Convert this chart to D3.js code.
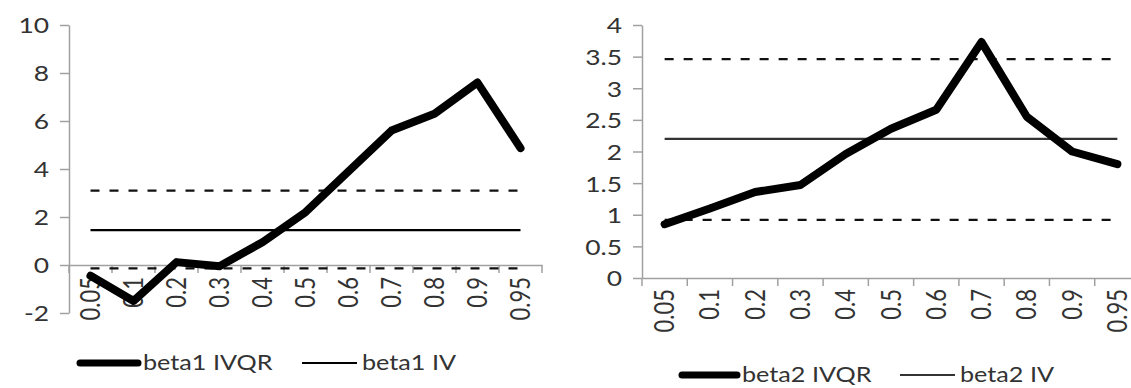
<!DOCTYPE html>
<html>
<head>
<meta charset="utf-8">
<script src="https://cdn.jsdelivr.net/npm/d3@7"></script>
<style>
  body { margin: 0; background: #fff; }
  svg { display: block; }
  text { font-family: Lato, "Open Sans", sans-serif; fill: #333; }
</style>
</head>
<body>
<div id="wrapper"></div>
<script>
const quantiles = ["0.05","0.1","0.2","0.3","0.4","0.5","0.6","0.7","0.8","0.9","0.95"];

const beta1IVQR = [-0.45, -1.5, 0.12, -0.05, 0.95, 2.2, 3.9, 5.6, 6.3, 7.6, 4.87];
const beta1IV = 1.45;
const beta1Low = -0.14;
const beta1High = 3.1;
const beta1Ticks = [-2, 0, 2, 4, 6, 8, 10];

const beta2IVQR = [0.85, 1.1, 1.36, 1.47, 1.96, 2.36, 2.66, 3.73, 2.55, 2.0, 1.8];
const beta2IV = 2.2;
const beta2Low = 0.92;
const beta2High = 3.46;
const beta2Ticks = [0, 0.5, 1, 1.5, 2, 2.5, 3, 3.5, 4];

const stretch = 1.2;

const svg = d3.select("#wrapper").append("svg")
  .attr("width", 1131)
  .attr("height", 388);

function drawPanel(opts) {
  const g = svg.append("g");

  const x = d3.scaleBand()
    .domain(quantiles)
    .range(opts.xRange)
    .padding(0);
  const y = d3.scaleLinear()
    .domain(opts.yDomain)
    .range(opts.yRange);
  const cx = d => x(d) + x.bandwidth() / 2;

  // y axis
  const yAxis = g.append("g")
    .attr("transform", `translate(${opts.xRange[0]},0)`)
    .call(d3.axisLeft(y).tickValues(opts.ticks).tickSize(9).tickSizeOuter(0).tickFormat(d => String(d)));
  yAxis.select(".domain").attr("stroke", "#a0a0a0").attr("stroke-width", 1.5);
  yAxis.selectAll(".tick line").attr("stroke", "#a0a0a0").attr("stroke-width", 1.5);
  yAxis.selectAll(".tick text")
    .attr("x", 0).attr("dy", "0.36em")
    .attr("transform", `translate(-${opts.yLabelGap},0) scale(${stretch},1)`)
    .attr("font-size", 22)
    .attr("text-anchor", "end");

  // x axis at y = 0
  const xAxis = g.append("g")
    .attr("transform", `translate(0,${y(0)})`)
    .call(d3.axisBottom(x).tickSize(0).tickSizeOuter(0));
  xAxis.select(".domain").attr("stroke", "#a0a0a0").attr("stroke-width", 1.5);
  xAxis.selectAll(".tick text")
    .attr("x", 0).attr("y", 0).attr("dy", "0.36em")
    .attr("transform", `translate(0,${opts.xLabelGap}) scale(${stretch},1) rotate(-90)`)
    .attr("font-size", 22)
    .attr("text-anchor", "end");

  // category boundary ticks
  const bounds = quantiles.map(q => x(q)).concat([x.range()[1]]);
  g.append("g").selectAll("line")
    .data(bounds)
    .join("line")
    .attr("x1", d => d).attr("x2", d => d)
    .attr("y1", y(0)).attr("y2", y(0) + 8)
    .attr("stroke", "#a0a0a0").attr("stroke-width", 1.5);

  const flat = v => d3.line().x(d => cx(d)).y(() => y(v))(quantiles);

  // confidence bands (dashed)
  [opts.low, opts.high].forEach(v => {
    g.append("path")
      .attr("d", flat(v))
      .attr("fill", "none")
      .attr("stroke", "#111")
      .attr("stroke-width", 2.2)
      .attr("stroke-dasharray", "9,10");
  });

  // IV estimate
  g.append("path")
    .attr("d", flat(opts.iv))
    .attr("fill", "none")
    .attr("stroke", opts.ivColor)
    .attr("stroke-width", 2.2);

  // IVQR estimates
  const line = d3.line()
    .x((d, i) => cx(quantiles[i]))
    .y(d => y(d));
  g.append("path")
    .attr("d", line(opts.ivqr))
    .attr("fill", "none")
    .attr("stroke", "#000")
    .attr("stroke-width", 8)
    .attr("stroke-linejoin", "round")
    .attr("stroke-linecap", "round");

  // legend
  const lg = g.append("g").attr("transform", `translate(0,${opts.legendY})`);
  lg.append("line")
    .attr("x1", opts.legendX[0]).attr("x2", opts.legendX[1])
    .attr("stroke", "#000").attr("stroke-width", 7).attr("stroke-linecap", "round");
  lg.append("text")
    .attr("transform", `translate(${opts.legendX[1] + 5},0) scale(${stretch},1)`)
    .attr("dy", "0.35em").attr("font-size", 21)
    .text(opts.names[0]);
  lg.append("line")
    .attr("x1", opts.legendX[2]).attr("x2", opts.legendX[3])
    .attr("stroke", opts.ivColor).attr("stroke-width", 2);
  lg.append("text")
    .attr("transform", `translate(${opts.legendX[3] + 5},0) scale(${stretch},1)`)
    .attr("dy", "0.35em").attr("font-size", 21)
    .text(opts.names[1]);
}

drawPanel({
  xRange: [69, 542],
  yDomain: [-2, 10],
  yRange: [313, 25],
  ticks: beta1Ticks,
  yLabelGap: 20,
  xLabelGap: 12,
  ivqr: beta1IVQR,
  iv: beta1IV,
  low: beta1Low,
  high: beta1High,
  ivColor: "#000",
  legendY: 363,
  legendX: [80, 138, 302, 357],
  names: ["beta1 IVQR", "beta1 IV"]
});

drawPanel({
  xRange: [642, 1140],
  yDomain: [0, 4],
  yRange: [278, 25],
  ticks: beta2Ticks,
  yLabelGap: 20,
  xLabelGap: 11,
  ivqr: beta2IVQR,
  iv: beta2IV,
  low: beta2Low,
  high: beta2High,
  ivColor: "#333",
  legendY: 375,
  legendX: [682, 737, 900, 955],
  names: ["beta2 IVQR", "beta2 IV"]
});
</script>
</body>
</html>
